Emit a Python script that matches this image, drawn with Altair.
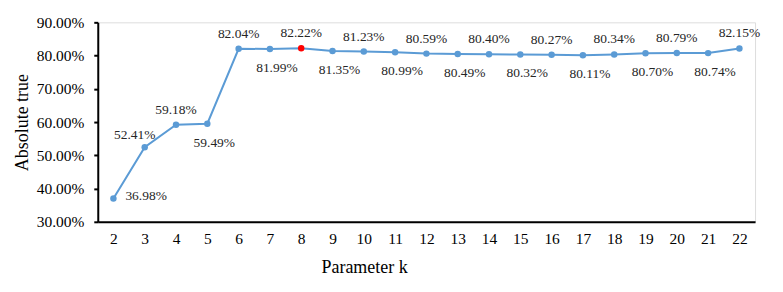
import altair as alt
import pandas as pd

k_values = list(range(2, 23))
accuracy = [36.98, 52.41, 59.18, 59.49, 82.04, 81.99, 82.22, 81.35, 81.23, 80.99,
            80.59, 80.49, 80.40, 80.32, 80.27, 80.11, 80.34, 80.70, 80.79, 80.74, 82.15]
y_ticks = [0.3, 0.4, 0.5, 0.6, 0.7, 0.8, 0.9]
highlight_k = [8]

df = pd.DataFrame({"k": k_values, "acc": [a / 100 for a in accuracy]})
df["label"] = [f"{a:.2f}%" for a in accuracy]

FONT = "Liberation Serif"
BLUE = "#5B9BD5"

above_ks = [4, 6, 8, 10, 12, 14, 16, 18, 20, 22]
below_ks = [5, 7, 9, 11, 13, 15, 17, 19, 21]

x_enc = alt.X("k:O", title="Parameter k",
              scale=alt.Scale(type="point", padding=0.5),
              axis=alt.Axis(labelAngle=0, labelFontSize=15.5, labelFont=FONT, labelColor="#000",
                            ticks=False, domainColor="#000", domainWidth=2, labelPadding=10,
                            labelOverlap=False,
                            titleFont=FONT, titleFontSize=18, titleFontWeight="normal",
                            titleColor="#000", titleX=267, titleY=46, titleBaseline="middle",
                            titleAlign="center"))
y_enc = alt.Y("acc:Q", title="Absolute true",
              scale=alt.Scale(domain=[0.3, 0.9], nice=False, zero=False),
              axis=alt.Axis(values=y_ticks, tickCount=7, format=".2%", grid=False,
                            labelFontSize=15.5,
                            labelFont=FONT, labelColor="#000", tickSize=4, tickColor="#000",
                            tickWidth=2, domainColor="#000", domainWidth=2, labelPadding=10,
                            labelOverlap=False,
                            titleFont=FONT, titleFontSize=18, titleFontWeight="normal",
                            titleColor="#000", titleX=-75, titleY=100, titleBaseline="middle",
                            titleAlign="center", titleAngle=-90))

base = alt.Chart(df).encode(x=x_enc, y=y_enc)

line = base.mark_line(color=BLUE, strokeWidth=2)
points = base.mark_circle(size=42, opacity=1).encode(
    color=alt.condition(alt.FieldOneOfPredicate(field="k", oneOf=highlight_k),
                        alt.value("#FF0000"), alt.value(BLUE)))

text_props = dict(font=FONT, fontSize=13.5, color="#262626", baseline="middle")
above = base.transform_filter(alt.FieldOneOfPredicate(field="k", oneOf=above_ks)).mark_text(
    dy=-15, **text_props).encode(text="label:N")
below = base.transform_filter(alt.FieldOneOfPredicate(field="k", oneOf=below_ks)).mark_text(
    dy=19, dx=7, **text_props).encode(text="label:N")
lab3 = base.transform_filter(alt.FieldOneOfPredicate(field="k", oneOf=[3])).mark_text(
    dy=-12, dx=-10, **text_props).encode(text="label:N")
lab2 = base.transform_filter(alt.FieldOneOfPredicate(field="k", oneOf=[2])).mark_text(
    dy=-3, dx=12, align="left", **text_props).encode(text="label:N")

chart = alt.layer(line, points, above, below, lab3, lab2).properties(
    width=659, height=200,
    autosize=alt.AutoSizeParams(type="none"),
    padding={"left": 90, "top": 14, "right": 20, "bottom": 62},
).configure_view(stroke=None).configure(background="white")

chart.save("out.html", embed_options={"renderer": "svg", "actions": False})
